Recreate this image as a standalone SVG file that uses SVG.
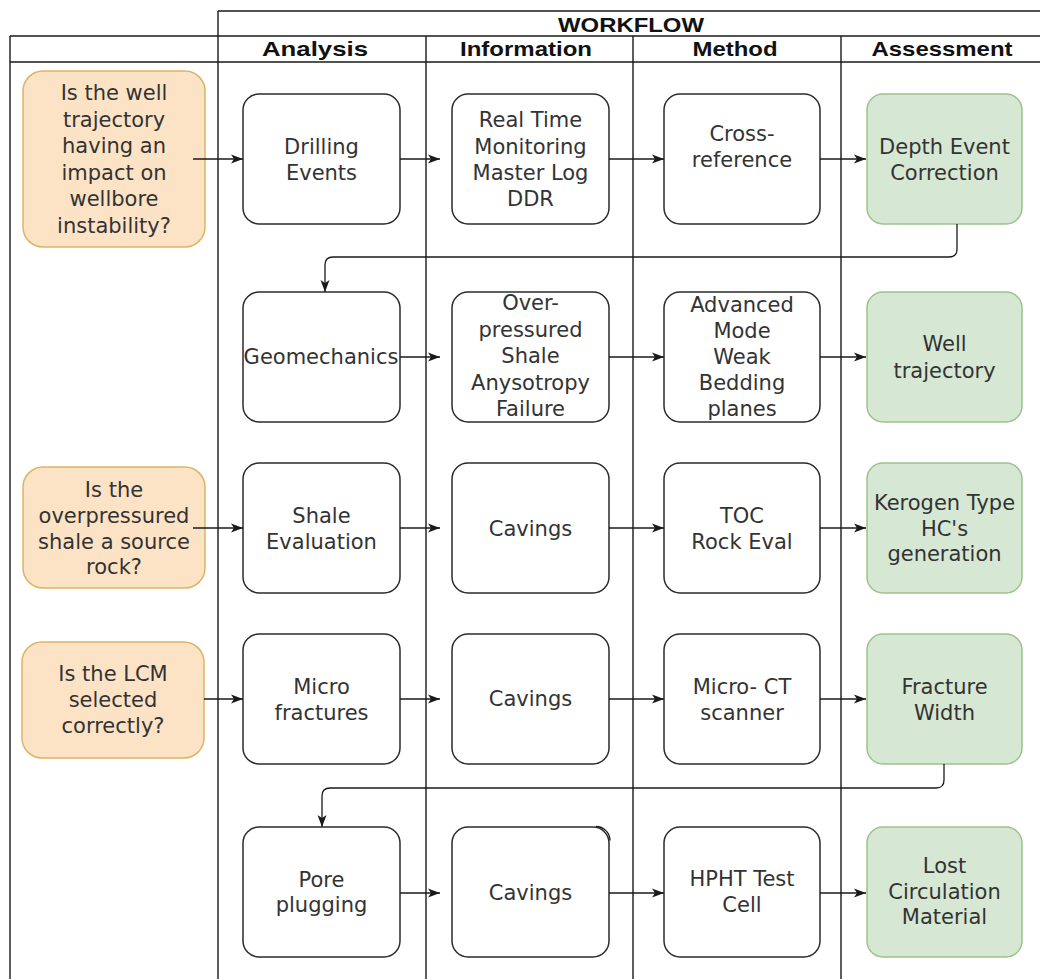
<svg xmlns="http://www.w3.org/2000/svg" width="1040" height="979" viewBox="0 0 1040 979">
  <style>
    .pool { fill: none; stroke: #1a1a1a; stroke-width: 1.4; }
    .hdr { font-family: "Liberation Sans", Arial, sans-serif; font-weight: bold; font-size: 21px; fill: #111; text-anchor: middle; }
    .t { font-family: "DejaVu Sans", Verdana, sans-serif; font-size: 21px; fill: #333; text-anchor: middle; }
    .box { fill: #ffffff; stroke: #2b2b2b; stroke-width: 1.5; }
    .q { fill: #fde3c6; stroke: #dbb465; stroke-width: 1.5; }
    .ok { fill: #d6e8d3; stroke: #9cc28b; stroke-width: 1.5; }
    .edge { fill: none; stroke: #1a1a1a; stroke-width: 1.3; }
  </style>
  <defs>
    <marker id="arrow" markerUnits="userSpaceOnUse" markerWidth="13" markerHeight="11" refX="12" refY="5.5" orient="auto">
      <path d="M0,1 L12,5.5 L0,10 L3,5.5 Z" fill="#1a1a1a"/>
    </marker>
  </defs>

  <rect width="1040" height="979" fill="#ffffff"/>

  <!-- swimlane frame -->
  <g id="pool">
    <path class="pool" d="M218,11 H1040 M10,36 H1040 M10,62 H1040 M10,36 V979 M218,11 V979 M426,36 V979 M633,36 V979 M841,36 V979"/>
    <text class="hdr" x="631" y="32" textLength="146" lengthAdjust="spacingAndGlyphs">WORKFLOW</text>
    <text class="hdr" x="315" y="56" textLength="106" lengthAdjust="spacingAndGlyphs">Analysis</text>
    <text class="hdr" x="526" y="56" textLength="132" lengthAdjust="spacingAndGlyphs">Information</text>
    <text class="hdr" x="735" y="56" textLength="85" lengthAdjust="spacingAndGlyphs">Method</text>
    <text class="hdr" x="942" y="56" textLength="141" lengthAdjust="spacingAndGlyphs">Assessment</text>
  </g>

  <!-- questions -->
  <g id="q-trajectory">
    <rect class="q" x="23" y="71" width="182" height="176" rx="20"/>
    <text class="t"><tspan x="114" y="100">Is the well</tspan><tspan x="114" y="126.5">trajectory</tspan><tspan x="114" y="153">having an</tspan><tspan x="114" y="179.5">impact on</tspan><tspan x="114" y="206">wellbore</tspan><tspan x="114" y="232.5">instability?</tspan></text>
  </g>
  <g id="q-source-rock">
    <rect class="q" x="23" y="467" width="182" height="121" rx="20"/>
    <text class="t"><tspan x="114" y="497">Is the</tspan><tspan x="114" y="523">overpressured</tspan><tspan x="114" y="549">shale a source</tspan><tspan x="114" y="574">rock?</tspan></text>
  </g>
  <g id="q-lcm">
    <rect class="q" x="22" y="642" width="182" height="116" rx="20"/>
    <text class="t"><tspan x="113" y="681">Is the LCM</tspan><tspan x="113" y="707">selected</tspan><tspan x="113" y="733">correctly?</tspan></text>
  </g>

  <!-- row 1 -->
  <g id="drilling-events">
    <rect class="box" x="243" y="94" width="157" height="130" rx="16"/>
    <text class="t"><tspan x="321.5" y="154">Drilling</tspan><tspan x="321.5" y="180">Events</tspan></text>
  </g>
  <g id="real-time">
    <rect class="box" x="452" y="94" width="157" height="130" rx="16"/>
    <text class="t"><tspan x="530.5" y="127">Real Time</tspan><tspan x="530.5" y="153.5">Monitoring</tspan><tspan x="530.5" y="180">Master Log</tspan><tspan x="530.5" y="206">DDR</tspan></text>
  </g>
  <g id="cross-reference">
    <rect class="box" x="664" y="94" width="156" height="130" rx="16"/>
    <text class="t"><tspan x="742" y="141">Cross-</tspan><tspan x="742" y="167">reference</tspan></text>
  </g>
  <g id="depth-event">
    <rect class="ok" x="867" y="94" width="155" height="130" rx="16"/>
    <text class="t"><tspan x="944.5" y="154">Depth Event</tspan><tspan x="944.5" y="180">Correction</tspan></text>
  </g>

  <!-- row 2 -->
  <g id="geomechanics">
    <rect class="box" x="243" y="292" width="157" height="130" rx="16"/>
    <text class="t" x="321" y="364">Geomechanics</text>
  </g>
  <g id="over-pressured">
    <rect class="box" x="452" y="292" width="157" height="130" rx="16"/>
    <text class="t"><tspan x="530.5" y="310">Over-</tspan><tspan x="530.5" y="336.5">pressured</tspan><tspan x="530.5" y="363">Shale</tspan><tspan x="530.5" y="389.5">Anysotropy</tspan><tspan x="530.5" y="416">Failure</tspan></text>
  </g>
  <g id="advanced-mode">
    <rect class="box" x="664" y="292" width="156" height="130" rx="16"/>
    <text class="t"><tspan x="742" y="312">Advanced</tspan><tspan x="742" y="338">Mode</tspan><tspan x="742" y="364">Weak</tspan><tspan x="742" y="390">Bedding</tspan><tspan x="742" y="416">planes</tspan></text>
  </g>
  <g id="well-trajectory">
    <rect class="ok" x="867" y="292" width="155" height="130" rx="16"/>
    <text class="t"><tspan x="944.5" y="351">Well</tspan><tspan x="944.5" y="378">trajectory</tspan></text>
  </g>

  <!-- row 3 -->
  <g id="shale-evaluation">
    <rect class="box" x="243" y="463" width="157" height="130" rx="16"/>
    <text class="t"><tspan x="321.5" y="523">Shale</tspan><tspan x="321.5" y="549">Evaluation</tspan></text>
  </g>
  <g id="cavings-1">
    <rect class="box" x="452" y="463" width="157" height="130" rx="16"/>
    <text class="t" x="530.5" y="536">Cavings</text>
  </g>
  <g id="toc">
    <rect class="box" x="664" y="463" width="156" height="130" rx="16"/>
    <text class="t"><tspan x="742" y="523">TOC</tspan><tspan x="742" y="549">Rock Eval</tspan></text>
  </g>
  <g id="kerogen">
    <rect class="ok" x="867" y="463" width="155" height="130" rx="16"/>
    <text class="t"><tspan x="944.5" y="510">Kerogen Type</tspan><tspan x="944.5" y="536">HC's</tspan><tspan x="944.5" y="561">generation</tspan></text>
  </g>

  <!-- row 4 -->
  <g id="micro-fractures">
    <rect class="box" x="243" y="634" width="157" height="130" rx="16"/>
    <text class="t"><tspan x="321.5" y="694">Micro</tspan><tspan x="321.5" y="720">fractures</tspan></text>
  </g>
  <g id="cavings-2">
    <rect class="box" x="452" y="634" width="157" height="130" rx="16"/>
    <text class="t" x="530.5" y="706">Cavings</text>
  </g>
  <g id="micro-ct">
    <rect class="box" x="664" y="634" width="156" height="130" rx="16"/>
    <text class="t"><tspan x="742" y="694">Micro- CT</tspan><tspan x="742" y="720">scanner</tspan></text>
  </g>
  <g id="fracture-width">
    <rect class="ok" x="867" y="634" width="155" height="130" rx="16"/>
    <text class="t"><tspan x="944.5" y="694">Fracture</tspan><tspan x="944.5" y="720">Width</tspan></text>
  </g>

  <!-- row 5 -->
  <g id="pore-plugging">
    <rect class="box" x="243" y="827" width="157" height="130" rx="16"/>
    <text class="t"><tspan x="321.5" y="887">Pore</tspan><tspan x="321.5" y="912">plugging</tspan></text>
  </g>
  <g id="cavings-3">
    <rect class="box" x="452" y="827" width="157" height="130" rx="16"/>
    <path class="edge" d="M596,826.5 A14,14 0 0 1 610,840.5"/>
    <text class="t" x="530.5" y="900">Cavings</text>
  </g>
  <g id="hpht">
    <rect class="box" x="664" y="827" width="156" height="130" rx="16"/>
    <text class="t"><tspan x="742" y="886">HPHT Test</tspan><tspan x="742" y="912">Cell</tspan></text>
  </g>
  <g id="lost-circulation">
    <rect class="ok" x="867" y="827" width="155" height="130" rx="16"/>
    <text class="t"><tspan x="944.5" y="873">Lost</tspan><tspan x="944.5" y="899">Circulation</tspan><tspan x="944.5" y="924">Material</tspan></text>
  </g>

  <!-- connectors -->
  <g id="connectors">
    <path class="edge" marker-end="url(#arrow)" d="M193,159 H243"/>
    <path class="edge" marker-end="url(#arrow)" d="M400,159 H440"/>
    <path class="edge" marker-end="url(#arrow)" d="M609,159 H664"/>
    <path class="edge" marker-end="url(#arrow)" d="M820,159 H866"/>
    <path class="edge" marker-end="url(#arrow)" d="M957,224 V249 Q957,257 949,257 H333 Q325,257 325,265 V292"/>

    <path class="edge" marker-end="url(#arrow)" d="M400,357 H440"/>
    <path class="edge" marker-end="url(#arrow)" d="M609,357 H664"/>
    <path class="edge" marker-end="url(#arrow)" d="M820,357 H866"/>

    <path class="edge" marker-end="url(#arrow)" d="M193,528 H243"/>
    <path class="edge" marker-end="url(#arrow)" d="M400,528 H440"/>
    <path class="edge" marker-end="url(#arrow)" d="M609,528 H664"/>
    <path class="edge" marker-end="url(#arrow)" d="M820,528 H866"/>

    <path class="edge" marker-end="url(#arrow)" d="M204,699 H243"/>
    <path class="edge" marker-end="url(#arrow)" d="M400,699 H440"/>
    <path class="edge" marker-end="url(#arrow)" d="M609,699 H664"/>
    <path class="edge" marker-end="url(#arrow)" d="M820,699 H866"/>
    <path class="edge" marker-end="url(#arrow)" d="M944,764 V780 Q944,788 936,788 H330 Q322,788 322,796 V827"/>

    <path class="edge" marker-end="url(#arrow)" d="M400,893 H440"/>
    <path class="edge" marker-end="url(#arrow)" d="M609,893 H664"/>
    <path class="edge" marker-end="url(#arrow)" d="M820,893 H866"/>
  </g>
</svg>
